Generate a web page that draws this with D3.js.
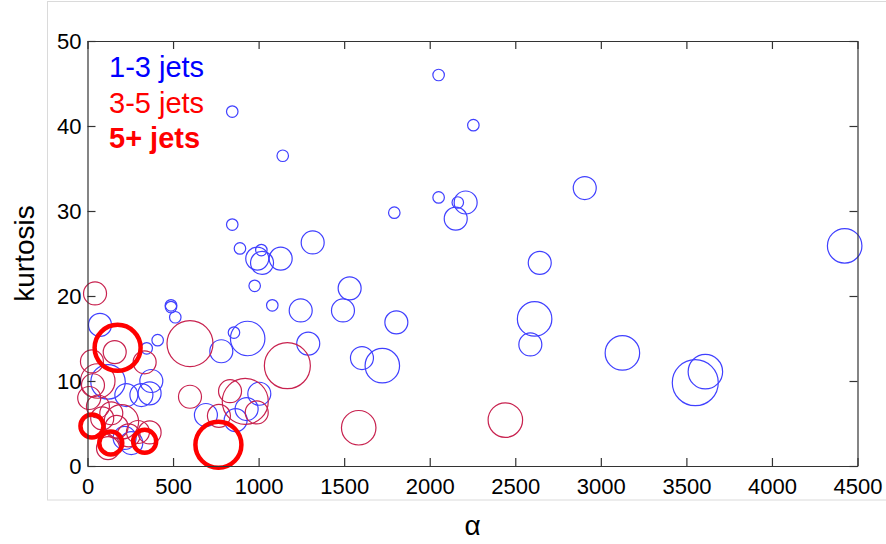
<!DOCTYPE html>
<html>
<head>
<meta charset="utf-8">
<script src="https://cdn.jsdelivr.net/npm/d3@7"></script>
<style>
  html, body { margin: 0; padding: 0; background: #fff; }
  svg { display: block; font-family: "Liberation Sans", Arial, Helvetica, sans-serif; }
</style>
</head>
<body>
<svg id="chart" width="886" height="544"></svg>
<script>
// Tick values for both axes
const xTicks = [0, 500, 1000, 1500, 2000, 2500, 3000, 3500, 4000, 4500];
const yTicks = [0, 10, 20, 30, 40, 50];

// Each event class: alpha (x), kurtosis (y), size class (1-4)
const jets13X = [2052, 846, 2255, 1141, 2052, 2164, 2210, 2152, 1793, 846,
                 1316, 891, 1016, 992, 1020, 1129, 977, 1532, 1080, 1246,
                 1493, 1805, 488, 488, 513, 856, 936, 782, 1290, 2906,
                 4425, 2643, 2613, 2588, 3126, 3611, 3552, 1604, 1723, 73,
                 410, 346, 120, 373, 315, 227, 363, 1004, 930, 866,
                 692, 217, 139, 330, 256];
const jets13Y = [46.0, 41.7, 40.1, 36.5, 31.6, 31.0, 31.0, 29.1, 29.8, 28.4,
                 26.3, 25.6, 25.4, 24.4, 23.9, 24.4, 21.2, 20.9, 18.9, 18.3,
                 18.3, 16.9, 18.9, 18.7, 17.5, 15.7, 15.0, 13.5, 14.4, 32.7,
                 25.9, 23.9, 17.3, 14.3, 13.3, 11.1, 9.8, 12.7, 11.8, 16.6,
                 14.8, 13.85, 9.9, 10.0, 8.35, 8.35, 8.55, 8.5, 6.7, 5.4,
                 6.0, 3.3, 2.7, 3.0, 2.7];
const jets13S = [1, 1, 1, 1, 1, 1, 2, 2, 1, 1,
                 2, 1, 1, 2, 2, 2, 1, 2, 1, 2,
                 2, 2, 1, 1, 1, 1, 3, 2, 2, 2,
                 3, 2, 3, 2, 3, 3, 4, 2, 3, 2,
                 1, 1, 3, 2, 2, 2, 2, 2, 2, 2,
                 2, 2, 2, 2, 2];

const jets35X = [44, 159, 26, 334, 599, 1168, 1585, 2442, 599, 833,
                 922, 989, 768, 32, 61, 10, 139, 198, 295, 363,
                 120, 60, 170, 86, 240];
const jets35Y = [20.3, 13.4, 12.3, 12.2, 14.4, 11.8, 4.5, 5.4, 8.15, 8.8,
                 7.6, 6.3, 5.9, 9.5, 7.0, 8.0, 6.2, 5.2, 4.0, 3.95,
                 2.1, 10.0, 4.6, 5.6, 3.6];
const jets35S = [2, 2, 2, 2, 4, 4, 3, 3, 2, 2,
                 4, 2, 2, 2, 2, 2, 2, 3, 2, 2,
                 2, 3, 2, 2, 2];

const jets5X = [176, 765, 26, 136, 334];
const jets5Y = [13.9, 2.5, 4.7, 2.7, 2.9];
const jets5S = [4, 4, 2, 2, 2];

const legendLabels = ["1-3 jets", "3-5 jets", "5+ jets"];

const svg = d3.select("#chart");
const margin = { left: 87.5, right: 28.5, top: 41, bottom: 78 };
const W = 886, H = 544;

// light figure frame
svg.append("rect")
  .attr("x", 47.5).attr("y", 1.5)
  .attr("width", 860).attr("height", 498.5)
  .attr("fill", "none").attr("stroke", "#dadada").attr("stroke-width", 1);

const x = d3.scaleLinear().domain([0, 4500]).range([margin.left, W - margin.right]);
const y = d3.scaleLinear().domain([0, 50]).range([H - margin.bottom, margin.top]);
const r = d3.scaleLinear().domain([0, 4]).range([0, 23]);

const zip = (xs, ys, ss) => xs.map((v, i) => ({ x: v, y: ys[i], s: ss[i] }));

const marks = svg.append("g");

marks.selectAll("circle.j13").data(zip(jets13X, jets13Y, jets13S)).join("circle")
  .attr("class", "j13")
  .attr("cx", d => x(d.x)).attr("cy", d => y(d.y)).attr("r", d => r(d.s))
  .attr("fill", "none").attr("stroke", "#4040ff").attr("stroke-width", 1.2);

marks.selectAll("circle.j35").data(zip(jets35X, jets35Y, jets35S)).join("circle")
  .attr("class", "j35")
  .attr("cx", d => x(d.x)).attr("cy", d => y(d.y)).attr("r", d => r(d.s))
  .attr("fill", "none").attr("stroke", "#c8224f").attr("stroke-width", 1.2);

marks.selectAll("circle.j5").data(zip(jets5X, jets5Y, jets5S)).join("circle")
  .attr("class", "j5")
  .attr("cx", d => x(d.x)).attr("cy", d => y(d.y)).attr("r", d => r(d.s))
  .attr("fill", "none").attr("stroke", "#ff0000").attr("stroke-width", 4.5);

// axes: ticks pointing inward on all four sides
const axisColor = "#333";
const fmt = d3.format("d");
function styleAxis(g, showLabels) {
  g.select(".domain").attr("stroke", axisColor).attr("stroke-width", 1.2);
  g.selectAll(".tick line").attr("stroke", axisColor).attr("stroke-width", 1.2);
  g.selectAll(".tick text")
    .attr("fill", "#000")
    .style("font-size", "22px")
    .style("display", showLabels ? null : "none");
}

svg.append("g")
  .attr("transform", `translate(0,${y(0)})`)
  .call(d3.axisBottom(x).tickValues(xTicks).tickFormat(fmt).tickSizeInner(-8).tickSizeOuter(0).tickPadding(12))
  .call(g => styleAxis(g, true));

svg.append("g")
  .attr("transform", `translate(0,${y(50)})`)
  .call(d3.axisTop(x).tickValues(xTicks).tickSizeInner(-8).tickSizeOuter(0))
  .call(g => styleAxis(g, false));

svg.append("g")
  .attr("transform", `translate(${x(0)},0)`)
  .call(d3.axisLeft(y).tickValues(yTicks).tickFormat(fmt).tickSizeInner(-8).tickSizeOuter(0).tickPadding(6))
  .call(g => styleAxis(g, true));

svg.append("g")
  .attr("transform", `translate(${x(4500)},0)`)
  .call(d3.axisRight(y).tickValues(yTicks).tickSizeInner(-8).tickSizeOuter(0))
  .call(g => styleAxis(g, false));

// axis titles
svg.append("text")
  .attr("transform", `translate(34,${(y(0) + y(50)) / 2}) rotate(-90)`)
  .attr("text-anchor", "middle")
  .style("font-size", "28px")
  .text("kurtosis");

svg.append("text")
  .attr("x", (x(0) + x(4500)) / 2).attr("y", 535)
  .attr("text-anchor", "middle")
  .style("font-size", "28px")
  .text("α");

// legend
const legendColors = ["#0000ff", "#ff0000", "#ff0000"];
const legendWeights = ["normal", "normal", "bold"];
svg.append("g").selectAll("text").data(legendLabels).join("text")
  .attr("x", 109)
  .attr("y", (d, i) => 77 + i * 35.5)
  .attr("fill", (d, i) => legendColors[i])
  .style("font-weight", (d, i) => legendWeights[i])
  .style("font-size", "29px")
  .text(d => d);
</script>
</body>
</html>
